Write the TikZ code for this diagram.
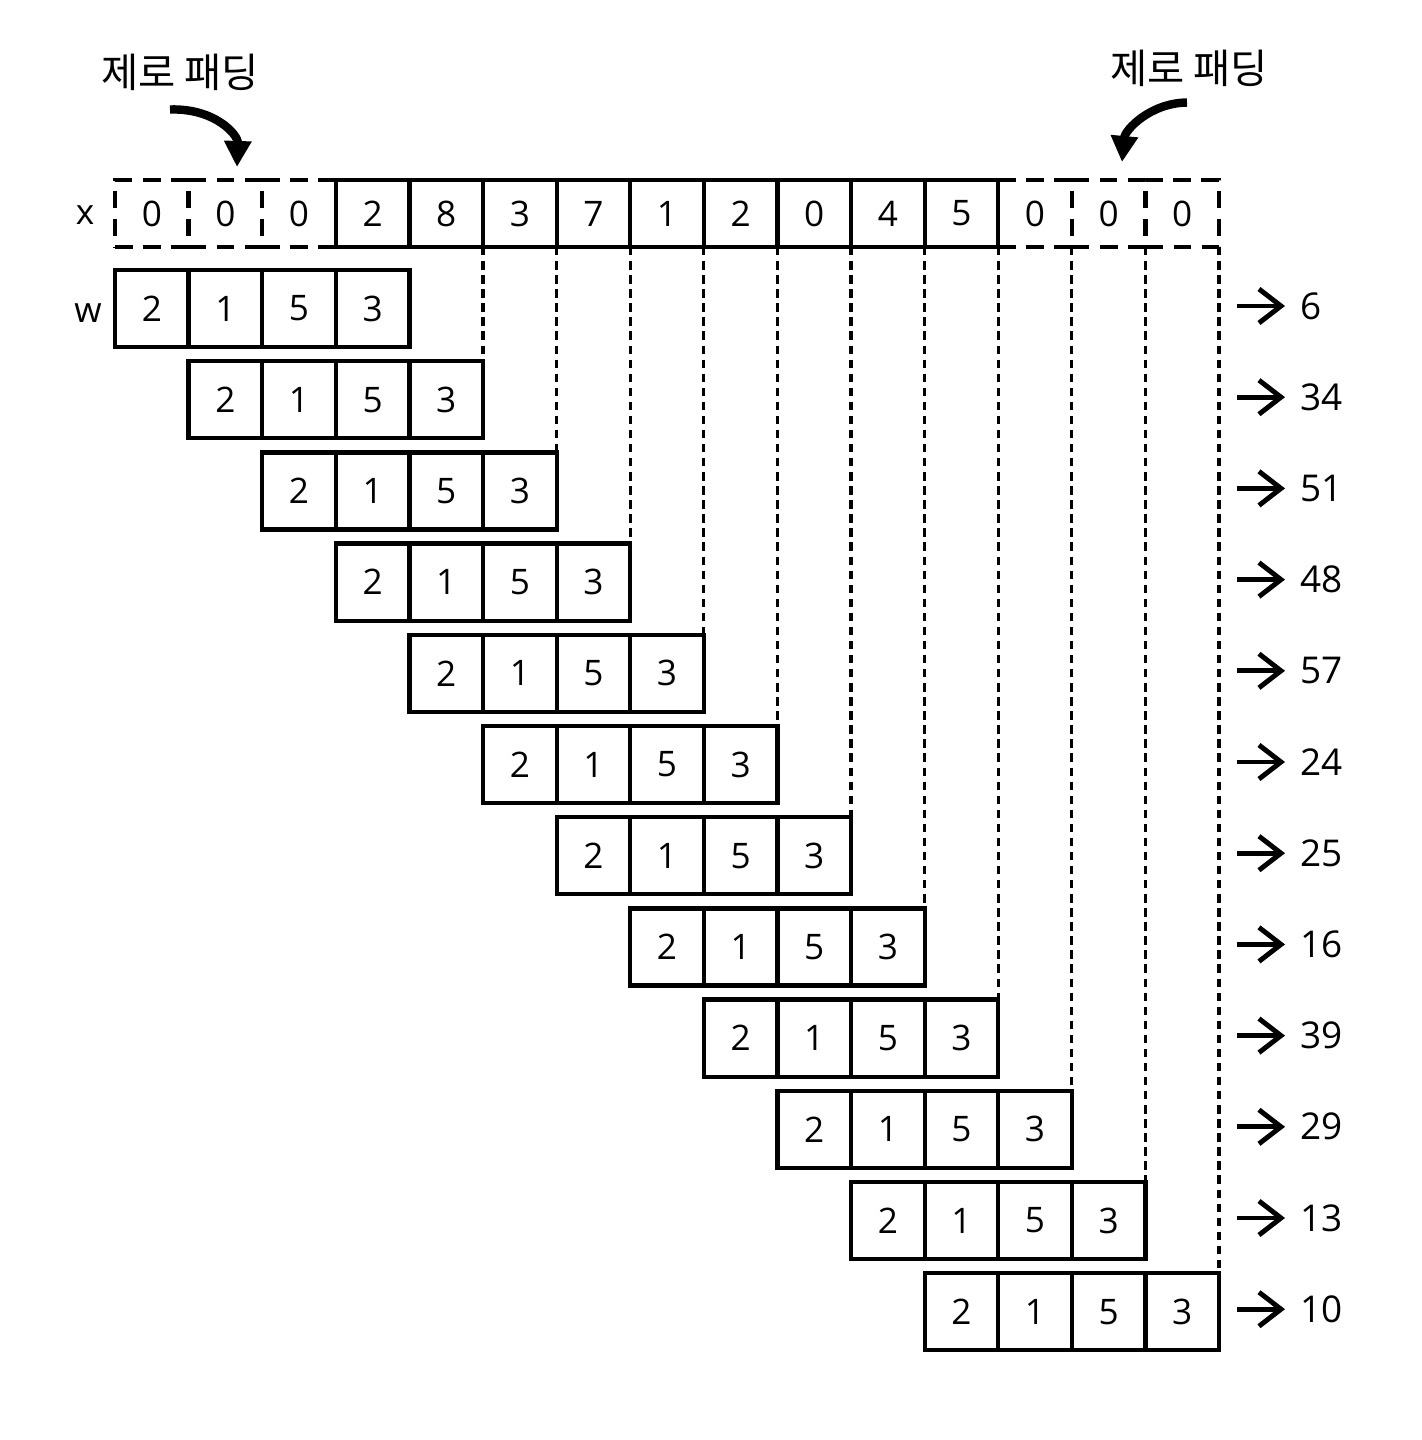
\documentclass[tikz,border=0pt]{standalone}
\usepackage{fontspec}
\newfontfamily\krfont{Noto Sans CJK KR}
\newfontfamily\digitfont{Open Sans}
\usetikzlibrary{positioning,arrows.meta}

\tikzset{
  cell/.style={draw, line width=1.2pt, minimum width=7.36mm, minimum height=7.7mm,
    inner sep=0pt, outer sep=0pt, anchor=north west, font=\digitfont\fontsize{10}{12}\selectfont},
  datacell/.style={cell, minimum height=6.7mm},
  padcell/.style={datacell, dash pattern=on 5pt off 3pt},
  wcell/.style={cell},
  guide/.style={line width=0.9pt, dash pattern=on 2.4pt off 1.6pt},
  outarrow/.style={-{Straight Barb[length=2.2mm,width=3.4mm]}, line width=1.4pt, shorten >=0.5mm},
  padarrow/.style={-{Triangle[length=2.6mm,width=2.6mm]}, line width=2.4pt},
  padlabel/.style={font=\krfont\fontsize{11.5}{13}\selectfont, inner sep=1pt},
  varname/.style={font=\digitfont\fontsize{10}{12}\selectfont},
  result/.style={anchor=west, inner sep=1mm, font=\digitfont\fontsize{10.5}{12}\selectfont},
}

\begin{document}
\begin{tikzpicture}[x=0.01cm,y=-0.01cm]
	\useasboundingbox (0,0) rectangle (1421,1440);
	\node[padlabel] (padl) at (180,72) {제로 패딩};
	\node[padlabel] (padr) at (1189,68) {제로 패딩};
	\node[varname] (xname) at (85,215) {x};
	\node[varname] (wname) at (88,313) {w};
	\foreach \v/\st [count=\i from 0] in {0/padcell,0/padcell,0/padcell,2/datacell,8/datacell,3/datacell,7/datacell,1/datacell,2/datacell,0/datacell,4/datacell,5/datacell,0/padcell,0/padcell,0/padcell}
		\node[\st] (x\i) at (115+73.6*\i,180) {\v};
	\foreach \r in {0,...,11} {
		\foreach \v [count=\c from 0] in {2,1,5,3}
			\node[wcell] (w\r-\c) at (115+73.6*\r+73.6*\c,270+91.2*\r) {\v};
	}
	\foreach \r [evaluate=\r as \k using int(\r+3)] in {1,...,11}
		\draw[guide] (x\k.south east) -- (w\r-3.north east);
	\foreach \y [count=\r from 0] in {6,34,51,48,57,24,25,16,39,29,13,10} {
		\node[result] (y\r) at (1290,306+91.2*\r) {\y};
		\coordinate (s\r) at (1237,306+91.2*\r);
		\draw[outarrow] (s\r) -- (y\r);
	}
	\coordinate (tipl) at (237,167);
	\coordinate (tipr) at (1122,162);
	\draw[padarrow] ([shift={(-10,15)}]padl.south) .. controls (215,108) and (238,135) .. (tipl);
	\draw[padarrow] ([shift={(-2,12)}]padr.south) .. controls (1150,103) and (1125,130) .. (tipr);
\end{tikzpicture}
\end{document}
